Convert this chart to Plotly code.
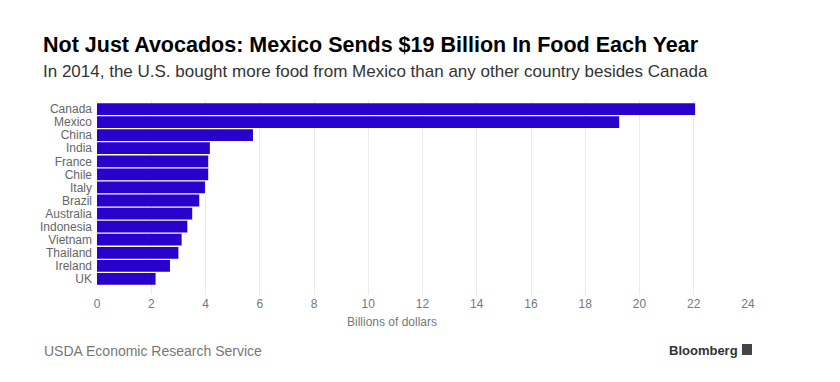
import plotly.graph_objects as go

countries = ["Canada", "Mexico", "China", "India", "France", "Chile", "Italy",
             "Brazil", "Australia", "Indonesia", "Vietnam", "Thailand", "Ireland", "UK"]
values = [22.05, 19.25, 5.75, 4.16, 4.1, 4.1, 3.98, 3.77, 3.51, 3.33, 3.12, 3.0, 2.69, 2.16]
x_ticks = [0, 2, 4, 6, 8, 10, 12, 14, 16, 18, 20, 22, 24]

title = "Not Just Avocados: Mexico Sends $19 Billion In Food Each Year"
subtitle = "In 2014, the U.S. bought more food from Mexico than any other country besides Canada"
source = "USDA Economic Research Service"
x_title = "Billions of dollars"

OFF = 8  # browser default body margin
W, H = 840 - OFF, 382 - OFF
L, R, T, B = 97 - OFF, 840 - 748, 100 - OFF, 382 - 295

fig = go.Figure(go.Bar(
    x=values, y=countries, orientation="h",
    marker=dict(color="#2900cc", line=dict(width=0)),
))

fig.update_layout(
    width=W, height=H,
    margin=dict(l=L, r=R, t=T, b=B, autoexpand=False),
    paper_bgcolor="white", plot_bgcolor="white",
    bargap=0.1,
    showlegend=False,
    font=dict(family="Liberation Sans, Arial, sans-serif", color="#666"),
    xaxis=dict(range=[0, 24], tickvals=x_ticks, showgrid=True, gridcolor="#ebebeb",
               gridwidth=1, zeroline=False, showline=False,
               tickfont=dict(size=12, color="#777"), fixedrange=True),
    yaxis=dict(categoryorder="array", categoryarray=countries,
               tickmode="array", tickvals=countries, ticktext=countries,
               range=[14.23, -0.69], showgrid=False, zeroline=False,
               tickfont=dict(size=12, color="#666"), ticklabelstandoff=4),
)

PW = W - L - R
PH = H - T - B

def ax(p):
    return (p - OFF - L) / PW

def ay(p):
    return 1 - (p - OFF - T) / PH

anns = [
    dict(text="<b>" + title + "</b>", x=ax(41), y=ay(45), xanchor="left", yanchor="middle",
         font=dict(family="Liberation Sans, Arial, sans-serif", size=21.5, color="#000")),
    dict(text=subtitle, x=ax(41), y=ay(71), xanchor="left", yanchor="middle",
         font=dict(family="Liberation Sans, Arial, sans-serif", size=17, color="#333")),
    dict(text=x_title, x=ax(392), y=ay(322), xanchor="center", yanchor="middle",
         font=dict(size=12, color="#777")),
    dict(text=source, x=ax(42), y=ay(351), xanchor="left", yanchor="middle",
         font=dict(size=14, color="#777")),
    dict(text="<b>Bloomberg</b>", x=ax(667), y=ay(350), xanchor="left", yanchor="middle",
         font=dict(size=13, color="#333")),
]
for a in anns:
    a.update(xref="paper", yref="paper", showarrow=False)
fig.update_layout(annotations=anns)

# small logo box next to Bloomberg
fig.add_shape(type="rect", xref="paper", yref="paper",
              x0=ax(742), x1=ax(752), y0=ay(355), y1=ay(344),
              fillcolor="#444", line=dict(width=0))

fig.write_html("out.html")
